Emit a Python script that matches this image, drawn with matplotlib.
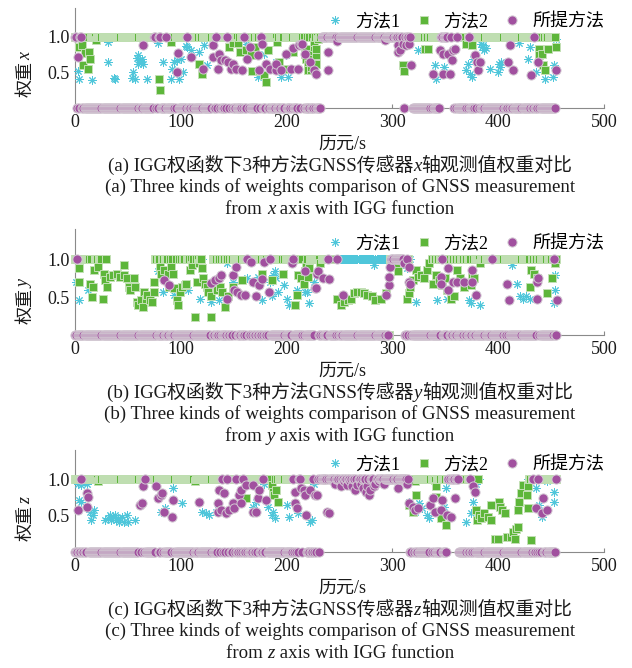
import numpy as np
import matplotlib.pyplot as plt

plt.rcParams['font.family'] = ['Liberation Serif', 'Noto Sans CJK SC']

# ---- data (epoch, weight) ----
last_epoch = 455
series_labels = ['方法1', '方法2', '所提方法']
axis_names = ['x', 'y', 'z']
panel_tags = ['(a)', '(b)', '(c)']
xticks = [0, 100, 200, 300, 400, 500]
yticks = [0.5, 1.0]
ytick_labels = ['0.5', '1.0']

# panel (a): x axis
a_m1_pts = [(3, 0.52), (4, 0.41), (16, 0.39), (31, 0.92), (31, 0.65), (37, 0.42), (38, 0.41),
            (54, 0.42), (55, 0.51), (57, 0.41), (59, 0.70), (60, 0.74), (60, 0.62), (61, 0.67),
            (62, 0.65), (63, 0.69), (64, 0.62), (68, 0.41), (78, 0.91), (83, 0.65), (91, 0.41),
            (92, 0.55), (94, 0.65), (96, 0.67), (98, 0.41), (100, 0.69), (102, 0.51), (105, 0.87),
            (106, 0.85), (110, 0.81), (117, 0.78), (122, 0.88), (125, 0.60), (162, 0.90),
            (171, 0.80), (173, 0.44), (179, 0.76), (190, 0.65), (195, 0.44), (199, 0.74),
            (201, 0.44), (324, 0.81), (340, 0.60), (341, 0.41), (349, 0.58), (370, 0.53),
            (371, 0.62), (373, 0.48), (375, 0.44), (376, 0.69), (384, 0.90), (385, 0.85),
            (386, 0.88), (387, 0.81), (388, 0.84), (392, 0.55), (400, 0.51), (401, 0.62),
            (402, 0.58), (403, 0.65), (420, 0.91), (428, 0.69), (430, 0.85), (436, 0.51),
            (444, 0.41), (452, 0.44), (453, 0.60), (455, 0.97)]
a_m1_zero = []
a_m2_pts = [(4, 0.86), (7, 0.88), (8, 0.60), (9, 0.77), (12, 0.55), (13, 0.78), (14, 0.69),
            (20, 0.95), (79, 0.41), (80, 0.25), (91, 0.92), (117, 0.61), (120, 0.47), (146, 0.85),
            (149, 0.91), (154, 0.91), (156, 0.78), (162, 0.81), (166, 0.74), (167, 0.52),
            (170, 0.85), (174, 0.52), (179, 0.46), (181, 0.37), (182, 0.81), (191, 0.92),
            (193, 0.65), (198, 0.55), (206, 0.78), (215, 0.99), (217, 0.76), (218, 0.83),
            (218, 0.69), (220, 0.62), (220, 0.53), (222, 0.76), (223, 0.53), (223, 0.58),
            (225, 0.69), (226, 0.85), (226, 0.92), (228, 0.74), (228, 0.62), (228, 0.83),
            (230, 0.97), (310, 0.60), (311, 0.52), (328, 0.99), (331, 0.83), (334, 0.83),
            (370, 0.90), (375, 0.88), (439, 0.83), (439, 0.74), (441, 0.76), (442, 0.60),
            (444, 0.53), (447, 0.83), (453, 0.99), (455, 0.85)]
a_m2_zero = []
a_pr_pts = [(3, 0.71), (64, 0.88), (96, 0.51), (97, 0.77), (110, 0.72), (121, 0.55), (130, 0.72),
            (130, 0.88), (135, 0.55), (136, 0.75), (138, 0.67), (142, 0.67), (145, 0.65),
            (147, 0.55), (149, 0.62), (152, 0.55), (158, 0.53), (163, 0.69), (165, 0.85),
            (173, 0.74), (174, 0.53), (177, 0.90), (181, 0.62), (184, 0.55), (190, 0.53),
            (190, 0.62), (195, 0.53), (199, 0.76), (204, 0.55), (206, 0.84), (211, 0.55),
            (212, 0.88), (214, 0.90), (215, 0.90), (217, 0.76), (222, 0.65), (226, 0.53),
            (228, 0.48), (239, 0.78), (239, 0.53), (248, 0.94), (293, 0.95), (305, 0.88),
            (305, 0.78), (307, 0.81), (310, 0.90), (313, 0.88), (316, 0.90), (318, 0.60),
            (338, 0.48), (345, 0.81), (348, 0.76), (348, 0.48), (353, 0.76), (354, 0.48),
            (356, 0.67), (357, 0.81), (359, 0.83), (378, 0.74), (380, 0.65), (381, 0.53),
            (383, 0.65), (409, 0.65), (411, 0.88), (414, 0.53), (431, 0.46), (438, 0.65),
            (455, 0.53)]
a_pr_one = [(0, 1), (5, 6), (75, 76), (79, 80), (86, 86), (106, 106), (133, 133), (138, 138),
            (144, 144), (160, 160), (176, 176), (206, 206), (214, 214), (233, 310), (312, 318),
            (345, 357), (361, 361), (372, 372), (434, 434)]

# panel (b): y axis
b_m1_pts = [(1, 0.70), (4, 0.46), (12, 0.59), (78, 0.84), (83, 0.57), (94, 0.53), (107, 0.59),
            (118, 0.48), (129, 0.44), (136, 0.46), (144, 0.95), (149, 0.70), (163, 0.75),
            (173, 0.77), (177, 0.46), (184, 0.70), (186, 0.51), (187, 0.79), (189, 0.84),
            (190, 0.75), (192, 0.57), (198, 0.66), (200, 0.48), (202, 0.40), (210, 0.59),
            (217, 0.57), (219, 0.57), (221, 0.42), (226, 0.70), (283, 0.93), (305, 0.86),
            (314, 0.88), (322, 0.44), (342, 0.46), (352, 0.48), (372, 0.46), (374, 0.42),
            (383, 0.40), (413, 0.93), (418, 0.68), (421, 0.51), (423, 0.48), (426, 0.51),
            (430, 0.48), (453, 0.42), (454, 0.79), (454, 0.59)]
b_m1_zero = [(30, 75), (121, 129), (318, 336)]
b_m2_pts = [(4, 0.89), (4, 0.70), (14, 0.68), (16, 0.50), (17, 0.64), (18, 0.86), (22, 0.90),
            (26, 0.48), (27, 0.81), (28, 0.73), (30, 0.64), (33, 0.77), (36, 0.79), (40, 0.81),
            (43, 0.77), (46, 0.93), (46, 0.79), (49, 0.75), (51, 0.64), (52, 0.59), (56, 0.75),
            (57, 0.64), (59, 0.44), (60, 0.40), (62, 0.46), (64, 0.37), (65, 0.57), (67, 0.48),
            (68, 0.53), (71, 0.46), (73, 0.44), (75, 0.57), (75, 0.70), (80, 0.90), (81, 0.81),
            (84, 0.86), (88, 0.81), (89, 0.64), (91, 0.90), (93, 0.81), (94, 0.62), (96, 0.46),
            (97, 0.40), (99, 0.57), (101, 0.64), (104, 0.66), (105, 0.68), (109, 0.86),
            (111, 0.93), (113, 0.24), (115, 0.70), (117, 0.95), (120, 0.88), (121, 0.75),
            (123, 0.68), (125, 0.64), (126, 0.57), (129, 0.24), (129, 0.51), (134, 0.59),
            (137, 0.64), (139, 0.57), (142, 0.37), (145, 0.51), (149, 0.64), (158, 0.73),
            (177, 0.81), (186, 0.73), (197, 0.81), (208, 0.40), (210, 0.53), (211, 0.79),
            (214, 0.75), (216, 0.68), (217, 0.84), (218, 0.93), (220, 0.77), (221, 0.88),
            (232, 0.95), (248, 0.48), (251, 0.40), (254, 0.44), (258, 0.46), (261, 0.48),
            (264, 0.55), (267, 0.57), (270, 0.57), (273, 0.55), (276, 0.53), (281, 0.51),
            (284, 0.46), (289, 0.48), (294, 0.55), (300, 0.97), (303, 0.93), (305, 0.84),
            (314, 0.48), (316, 0.55), (317, 0.64), (319, 0.73), (322, 0.86), (324, 0.77),
            (327, 0.79), (330, 0.75), (333, 0.86), (335, 0.95), (338, 0.68), (341, 0.79),
            (344, 0.73), (347, 0.66), (350, 0.75), (352, 0.59), (355, 0.48), (358, 0.51),
            (361, 0.86), (364, 0.75), (368, 0.64), (374, 0.66), (375, 0.81), (377, 0.75),
            (383, 0.95), (430, 0.64), (431, 0.86), (434, 0.81), (437, 0.75), (446, 0.55),
            (451, 0.75), (454, 0.95)]
b_m2_zero = [(30, 75), (121, 129), (245, 297), (318, 336)]
b_pr_pts = [(84, 0.73), (89, 0.66), (129, 0.69), (132, 0.73), (136, 0.75), (138, 0.79),
            (144, 0.48), (149, 0.79), (150, 0.59), (152, 0.90), (153, 0.57), (157, 0.53),
            (161, 0.53), (166, 0.97), (168, 0.70), (171, 0.51), (174, 0.66), (177, 0.74),
            (179, 0.97), (183, 0.57), (205, 0.95), (217, 0.84), (227, 0.62), (228, 0.62),
            (229, 0.81), (230, 0.84), (234, 0.75), (240, 0.74), (253, 0.53), (294, 0.53),
            (297, 0.66), (297, 0.77), (298, 0.90), (311, 0.95), (316, 0.70), (316, 0.90),
            (317, 0.68), (346, 0.77), (346, 0.68), (353, 0.88), (353, 0.59), (357, 0.70),
            (361, 0.70), (368, 0.70), (375, 0.86), (375, 0.70), (379, 0.53), (408, 0.68),
            (410, 0.46), (437, 0.48), (437, 0.70), (438, 0.75), (456, 0.46)]
b_pr_one = [(2, 2), (89, 89), (153, 153), (163, 163), (184, 184), (206, 206), (239, 239),
            (248, 248), (298, 310), (314, 314), (347, 347), (394, 394), (453, 453)]

# panel (c): z axis
c_m1_pts = [(3, 0.94), (4, 0.71), (6, 0.92), (6, 0.69), (11, 0.94), (14, 0.55), (15, 0.44),
            (17, 0.51), (18, 0.58), (28, 0.44), (31, 0.46), (33, 0.51), (34, 0.44), (36, 0.48),
            (38, 0.51), (39, 0.44), (41, 0.46), (42, 0.41), (44, 0.48), (46, 0.41), (49, 0.51),
            (50, 0.41), (57, 0.44), (81, 0.55), (85, 0.60), (93, 0.88), (101, 0.67), (120, 0.55),
            (124, 0.53), (127, 0.51), (133, 0.55), (136, 0.62), (168, 0.62), (171, 0.69),
            (179, 0.94), (182, 0.62), (186, 0.51), (187, 0.55), (189, 0.46), (200, 0.65),
            (202, 0.48), (211, 0.53), (222, 0.41), (224, 0.44), (226, 0.94), (316, 0.69),
            (321, 0.55), (325, 0.67), (328, 0.60), (333, 0.51), (335, 0.46), (349, 0.62),
            (351, 0.88), (370, 0.41), (374, 0.53), (376, 0.69), (379, 0.94), (436, 0.88),
            (439, 0.65), (441, 0.48), (446, 0.97), (453, 0.83), (453, 0.69)]
c_m1_zero = [(383, 427)]
c_m2_pts = [(22, 0.97), (113, 0.97), (162, 0.74), (186, 0.92), (187, 0.83), (188, 0.78),
            (190, 0.85), (192, 0.69), (316, 0.65), (319, 0.55), (321, 0.97), (322, 0.78),
            (340, 0.99), (341, 0.90), (341, 0.76), (346, 0.46), (351, 0.37), (379, 0.58),
            (380, 0.44), (382, 0.51), (384, 0.46), (387, 0.53), (390, 0.48), (393, 0.65),
            (393, 0.44), (397, 0.18), (400, 0.18), (401, 0.69), (402, 0.62), (404, 0.58),
            (406, 0.53), (408, 0.21), (412, 0.21), (414, 0.28), (416, 0.18), (417, 0.32),
            (419, 0.35), (419, 0.58), (420, 0.69), (422, 0.81), (423, 0.92), (427, 0.78),
            (428, 0.90), (428, 0.60), (430, 1.00), (431, 0.16)]
c_m2_zero = [(383, 427)]
c_pr_pts = [(3, 0.58), (11, 0.62), (11, 0.81), (12, 0.76), (61, 0.65), (63, 0.67), (64, 0.90),
            (77, 0.90), (78, 0.74), (81, 0.78), (82, 0.81), (84, 0.55), (92, 0.48), (93, 0.71),
            (117, 0.69), (135, 0.67), (135, 0.55), (136, 0.85), (138, 0.58), (141, 0.81),
            (143, 0.53), (146, 0.58), (149, 0.67), (150, 0.60), (155, 0.78), (157, 0.85),
            (157, 0.67), (162, 0.92), (168, 0.92), (168, 0.55), (171, 0.55), (173, 0.74),
            (174, 0.85), (181, 0.71), (208, 0.83), (208, 0.67), (210, 0.60), (214, 0.88),
            (216, 0.85), (217, 0.78), (218, 0.51), (222, 0.85), (227, 0.78), (229, 0.78),
            (238, 0.55), (240, 0.53), (246, 0.94), (251, 0.90), (254, 0.97), (257, 0.92),
            (260, 0.97), (262, 0.90), (265, 0.85), (267, 0.92), (270, 0.94), (272, 0.88),
            (275, 0.83), (276, 0.90), (278, 0.78), (279, 0.85), (283, 0.90), (284, 0.94),
            (287, 0.97), (292, 0.94), (305, 0.88), (314, 0.94), (316, 0.67), (319, 0.62),
            (321, 0.58), (324, 0.60), (336, 0.65), (338, 0.74), (340, 0.55), (346, 0.58),
            (347, 0.71), (352, 0.51), (355, 0.48), (359, 0.74), (376, 0.90), (378, 0.83),
            (436, 0.60), (441, 0.53), (442, 0.74), (446, 0.58)]
c_pr_one = [(6, 6), (64, 64), (66, 66), (92, 92), (117, 117), (139, 139), (144, 144),
            (152, 152), (159, 159), (168, 168), (178, 178), (206, 206), (210, 210), (212, 214),
            (225, 225), (230, 230), (232, 315), (353, 362), (373, 373), (378, 378), (433, 433),
            (438, 438), (442, 442), (455, 455)]

panels = [
    (a_m1_pts, a_m1_zero, a_m2_pts, a_m2_zero, a_pr_pts, a_pr_one),
    (b_m1_pts, b_m1_zero, b_m2_pts, b_m2_zero, b_pr_pts, b_pr_one),
    (c_m1_pts, c_m1_zero, c_m2_pts, c_m2_zero, c_pr_pts, c_pr_one),
]

W, H = 632, 668
col_m1 = '#4fc6da'
col_m2 = '#5db63a'
col_m2_edge = '#c3e0b5'
col_pr = '#a1509f'
col_pr_edge = '#d2c8d2'
col_axis = '#8a8a8a'
cap_size = 13.6


def build(pts, intervals, base, fill):
    # every epoch gets the base weight, intervals get the fill weight,
    # and read-off points replace the value at their epoch
    ep = np.arange(last_epoch + 1)
    w = np.full(ep.size, base, dtype=float)
    for lo, hi in intervals:
        w[(ep >= lo) & (ep <= hi)] = fill
    px = np.array([p[0] for p in pts], dtype=float)
    py = np.array([p[1] for p in pts], dtype=float)
    keep = ~np.isin(ep, px)
    x = np.concatenate([ep[keep], px])
    y = np.concatenate([w[keep], py])
    o = np.argsort(x, kind='stable')
    return x[o], y[o]


fig = plt.figure(figsize=(W / 100, H / 100), dpi=100)
renderer = fig.canvas.get_renderer()


def text_width(s, italic=False, size=13):
    st = 'italic' if italic else 'normal'
    t1 = fig.text(0, 0, '|' + s + '|', fontsize=size, style=st)
    t2 = fig.text(0, 0, '||', fontsize=size, style=st)
    w = t1.get_window_extent(renderer).width - t2.get_window_extent(renderer).width
    t1.remove()
    t2.remove()
    return w


def rich_line(xc, y_px, parts, size=cap_size):
    widths = [text_width(s, it, size) for s, it in parts]
    x = xc - sum(widths) / 2
    for (s, it), w in zip(parts, widths):
        fig.text(x / W, 1 - y_px / H, s, fontsize=size, ha='left', va='baseline',
                 style='italic' if it else 'normal', color='#1a1a1a')
        x += w


axes_px = [(8, 108), (229, 335), (450, 552)]
left_px, right_px = 75, 604

for i, (top, bot) in enumerate(axes_px):
    m1p, m1z, m2p, m2z, prp, pro = panels[i]
    ax = fig.add_axes([left_px / W, 1 - bot / H, (right_px - left_px) / W, (bot - top) / H])

    x1, y1 = build(m1p, m1z, 1.0, 0.0)
    x2, y2 = build(m2p, m2z, 1.0, 0.0)
    x3, y3 = build(prp, pro, 0.0, 1.0)
    ax.plot(x1, y1, ls='none', marker=(8, 2, 0), ms=6, mew=0.7, color=col_m1,
            clip_on=False, zorder=3, label=series_labels[0])
    ax.plot(x2, y2, ls='none', marker='s', ms=5.5, mfc=col_m2, mec=col_m2_edge, mew=0.7,
            clip_on=False, zorder=4, label=series_labels[1])
    ax.plot(x3, y3, ls='none', marker='o', ms=6.6, mfc=col_pr, mec=col_pr_edge, mew=0.7,
            clip_on=False, zorder=5, label=series_labels[2])

    ax.set_xlim(0, 500)
    ax.set_ylim(0, 1.4)
    ax.set_xticks(xticks)
    ax.set_yticks(yticks)
    ax.set_yticklabels(ytick_labels)
    for s in ['top', 'right']:
        ax.spines[s].set_visible(False)
    for s in ['left', 'bottom']:
        ax.spines[s].set_color(col_axis)
        ax.spines[s].set_linewidth(0.8)
    ax.tick_params(direction='in', length=3, width=0.8, color=col_axis, labelsize=13,
                   labelcolor='#1a1a1a', pad=4)
    ax.tick_params(axis='y', length=0)

    ax.legend(loc='center right', bbox_to_anchor=(1.0, 0.86), ncol=3, frameon=False,
              fontsize=13, handlelength=1.0, handletextpad=0.6, columnspacing=0.8,
              borderaxespad=0, borderpad=0)

    # rotated y label: 权重 + italic axis letter
    base_x = 30
    start_y = bot - 11
    w1 = text_width('权重') + 0.5
    fig.text(base_x / W, 1 - start_y / H, '权重', fontsize=13, rotation=90,
             rotation_mode='anchor', ha='left', va='baseline', color='#1a1a1a')
    fig.text(base_x / W, 1 - (start_y - w1) / H, axis_names[i], fontsize=13, rotation=90,
             rotation_mode='anchor', ha='left', va='baseline', style='italic', color='#1a1a1a')

    fig.text(342 / W, 1 - (bot + 41) / H, '历元/s', fontsize=13, ha='center', va='baseline',
             color='#1a1a1a')
    rich_line(340, bot + 63, [(panel_tags[i] + ' IGG权函数下3种方法GNSS传感器', False),
                              (axis_names[i], True), ('轴观测值权重对比', False)])
    rich_line(340, bot + 84, [(panel_tags[i] + ' Three kinds of weights comparison of GNSS measurement', False)])
    rich_line(340, bot + 106, [('from ', False), (axis_names[i], True),
                               (' axis with IGG function', False)])

fig.savefig('out.png', dpi=100)
